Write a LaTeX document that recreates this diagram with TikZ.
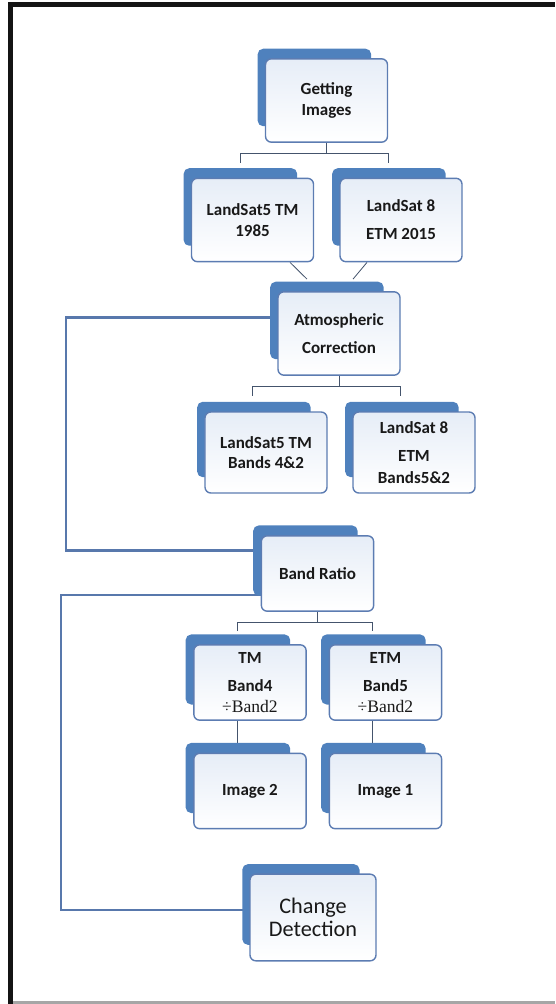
\documentclass[tikz,border=0pt]{standalone}
\usepackage{fontspec}
\setmainfont{Carlito}
\newfontfamily\timesfont{Liberation Serif}
\usepackage{tikz}
\usetikzlibrary{backgrounds}
\usetikzlibrary{shadows}
\usetikzlibrary{calc}
\usetikzlibrary{positioning}
\definecolor{backblue}{RGB}{79,129,189}
\definecolor{edgeblue}{RGB}{92,124,178}
\definecolor{paleblue}{RGB}{230,237,247}
\definecolor{linkgray}{RGB}{68,84,108}
\definecolor{loopblue}{RGB}{88,120,172}
\tikzstyle{card} = [rectangle, draw=edgeblue, line width=1.2pt, rounded corners=5pt,
    top color=paleblue, bottom color=white, text=black!90, align=center,
    font=\fontsize{14.5}{18}\selectfont\bfseries, inner sep=2pt,
    minimum width=3.66cm, minimum height=2.5cm,
    general shadow={fill=backblue, draw=none, shadow xshift=-0.39cm,
        shadow yshift=0.42cm, shadow scale=0.93}]
\tikzstyle{small card} = [card, minimum width=3.37cm, minimum height=2.26cm]
\tikzstyle{link} = [draw, linkgray, line width=0.7pt]
\tikzstyle{loop} = [draw, loopblue, line width=1.9pt]

\begin{document}
\begin{tikzpicture}[x=0.03cm,y=-0.03cm]
    \useasboundingbox (0,0) rectangle (555,1004);
    % Frame
    \fill[black!92] (8,2) rectangle (555,7);
    \fill[black!92] (8,7) rectangle (12.5,1004);
    \fill[gray!70] (12.5,1001) rectangle (555,1004);
    % Place nodes
    \node[card] (gi) at (326.5,100.5) {Getting\\Images};
    \node[card] (l5) at (252.5,220) {LandSat5 TM\\1985};
    \node[card] (l8) at (401,220) {LandSat 8\\[6pt]ETM 2015};
    \node[card] (ac) at (339,333.5) {Atmospheric\\[6pt]Correction};
    \node[card, minimum height=2.43cm] (b5) at (266,452.5) {LandSat5 TM\\[-1pt]Bands 4\&2};
    \node[card, minimum height=2.43cm] (b8) at (414,452.5) {LandSat 8\\[6pt]ETM\\Bands5\&2};
    \node[small card] (br) at (317.5,573.5) {Band Ratio};
    \node[small card] (tm) at (250,682.5) {TM\\[6pt]Band4\\{\timesfont\mdseries\fontsize{15}{17}\selectfont ÷Band2}};
    \node[small card] (etm) at (385.5,682.5) {ETM\\[6pt]Band5\\{\timesfont\mdseries\fontsize{15}{17}\selectfont ÷Band2}};
    \node[small card] (im2) at (250,791) {Image 2};
    \node[small card] (im1) at (385.5,791) {Image 1};
    \node[card, minimum width=3.78cm, minimum height=2.6cm,
        font=\fontsize{19}{20}\selectfont] (cd) at (313,917.5) {Change\\Detection};
    % Draw edges
    \begin{scope}[on background layer]
    \path [link] (gi.south) -- ++(0,11) -| ($(l5.north)+(-12,-15)$);
    \path [link] (gi.south) -- ++(0,11) -| ($(l8.north)+(-13,-15)$);
    \path [link] ($(l5.south)+(37.5,0)$) -- ($(ac.north)+(-32,-12)$);
    \path [link] ($(l8.south)+(-34,0)$) -- ($(ac.north)+(14,-12)$);
    \path [link] (ac.south) -- ++(0,11) -| ($(b5.north)+(-14,-15)$);
    \path [link] (ac.south) -- ++(0,11) -| ($(b8.north)+(-14,-15)$);
    \path [link] (br.south) -- ++(0,11) -| ($(tm.north)+(-13,-13)$);
    \path [link] (br.south) -- ++(0,11) -| ($(etm.north)+(-13,-13)$);
    \path [link] ($(tm.south)+(-13,0)$) -- ($(im2.north)+(-13,-10)$);
    \path [link] ($(etm.south)+(-13,0)$) -- ($(im1.north)+(-13,-10)$);
    \path [loop] ($(ac.west)+(0,-16)$) -- ++(-211,0) |- ($(br.west)+(0,-23)$);
    \path [loop] ($(br.west)+(0,21.5)$) -- ++(-200,0) |- ($(cd.west)+(0,-7.5)$);
    \end{scope}
\end{tikzpicture}
\end{document}
